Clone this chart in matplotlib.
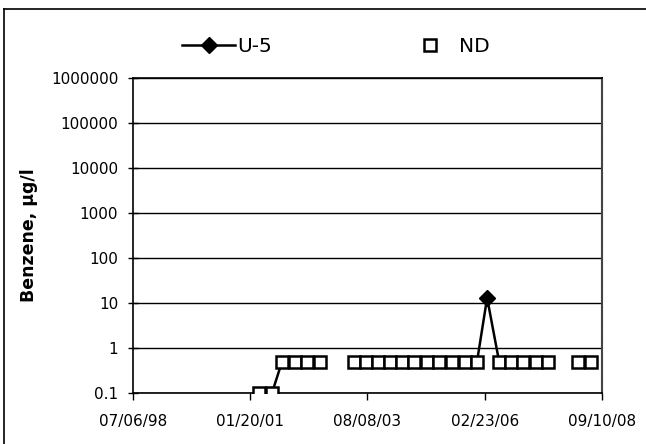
import numpy as np
import pandas as pd
import matplotlib
matplotlib.use('Agg')
import matplotlib.pyplot as plt
import matplotlib.dates as mdates
from matplotlib.lines import Line2D

plt.rcParams['font.family'] = ['DejaVu Sans']

# ND results (plotted at the detection limit)
nd_dates = ['2001-03-31', '2001-07-12',
            '2001-09-30', '2002-01-10', '2002-04-16', '2002-07-28',
            '2003-04-24', '2003-07-28', '2003-10-31', '2004-02-03', '2004-05-09', '2004-08-12',
            '2004-11-23', '2005-02-26', '2005-06-09', '2005-09-20', '2005-12-24',
            '2006-06-17', '2006-09-20', '2006-12-24', '2007-04-06', '2007-07-11',
            '2008-03-04', '2008-06-16']
nd_values = [0.1, 0.1,
             0.5, 0.5, 0.5, 0.5,
             0.5, 0.5, 0.5, 0.5, 0.5, 0.5,
             0.5, 0.5, 0.5, 0.5, 0.5,
             0.5, 0.5, 0.5, 0.5, 0.5,
             0.5, 0.5]

# U-5 line (blank cells break the line)
u5_dates = ['2001-07-12', '2001-09-30', '2003-01-01', '2005-12-24', '2006-03-14', '2006-06-17']
u5_values = [0.1, 0.5, np.nan, 0.5, 13, 0.5]

x_ticks = ['1998-07-06', '2001-01-20', '2003-08-08', '2006-02-23', '2008-09-10']
y_ticks = [0.1, 1, 10, 100, 1000, 10000, 100000, 1000000]
y_labels = ['0.1', '1', '10', '100', '1000', '10000', '100000', '1000000']

nd_x = pd.to_datetime(nd_dates)
u5_x = pd.to_datetime(u5_dates)
tick_x = pd.to_datetime(x_ticks)

fig = plt.figure(figsize=(6.46, 4.44), dpi=100)
ax = fig.add_axes([0.2059, 0.1149, 0.726, 0.7095])

ax.plot(u5_x, u5_values, color='black', linewidth=1.8, marker='D', markersize=8.5,
        markevery=[4], markerfacecolor='black', label='U-5', zorder=3)
ax.plot(nd_x, nd_values, linestyle='none', marker='s', markersize=8.3,
        markerfacecolor='white', markeredgecolor='black', markeredgewidth=1.8,
        label='ND', zorder=4)

ax.set_yscale('log')
ax.set_ylim(0.1, 1000000)
ax.set_yticks(y_ticks)
ax.set_yticklabels(y_labels)
ax.yaxis.set_minor_locator(matplotlib.ticker.NullLocator())
ax.set_xlim(tick_x[0], tick_x[-1])
ax.set_xticks(tick_x)
ax.xaxis.set_major_formatter(mdates.DateFormatter('%m/%d/%y'))

ax.grid(True, axis='y', color='black', linewidth=1)
ax.tick_params(axis='y', direction='inout', length=7.2, width=1, labelsize=11, pad=7)
ax.tick_params(axis='x', direction='out', length=5, width=1, labelsize=11, pad=10)
for s in ['left', 'bottom', 'top']:
    ax.spines[s].set_linewidth(1.2)
ax.spines['right'].set_color('#444444')
ax.spines['right'].set_linewidth(1.5)
ax.spines['right'].set_linestyle((0, (1, 0.6)))

ax.set_ylabel('Benzene, µg/l', fontsize=12.5, fontweight='bold')
ax.yaxis.set_label_coords(-0.203, 0.5)

fig.legend(loc='center left', bbox_to_anchor=(182 / 646, 1 - 47 / 444), ncol=2, frameon=False,
           fontsize=14.5, handlelength=2.64, columnspacing=6.5, handletextpad=0.12,
           borderpad=0, borderaxespad=0)

# outer chart border
fig.add_artist(Line2D([4 / 646, 1], [1 - 9 / 444, 1 - 9 / 444], color='black', linewidth=1.2,
                      transform=fig.transFigure))
fig.add_artist(Line2D([4 / 646, 4 / 646], [0, 1 - 9 / 444], color='black', linewidth=1.2,
                      transform=fig.transFigure))

fig.savefig('out.png', dpi=100)
